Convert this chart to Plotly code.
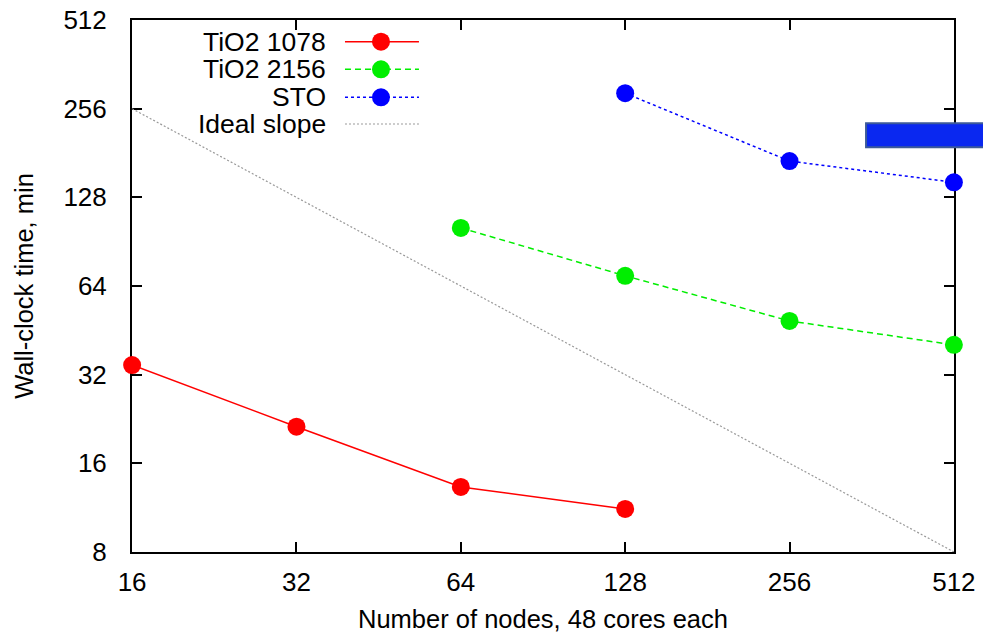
import math
import plotly.graph_objects as go

# ---- data ----
nodes_tio2_1078 = [16, 32, 64, 128]
time_tio2_1078 = [34.5, 21.3, 13.3, 11.2]

nodes_tio2_2156 = [64, 128, 256, 512]
time_tio2_2156 = [100.8, 69.3, 48.7, 40.4]

nodes_sto = [128, 256, 512]
time_sto = [289, 170, 144]

nodes_ideal = [16, 512]
time_ideal = [256, 8]

x_ticks = [16, 32, 64, 128, 256, 512]
y_ticks = [8, 16, 32, 64, 128, 256, 512]

series_names = ["TiO2 1078", "TiO2 2156", "STO", "Ideal slope"]
series_colors = ["#ff0000", "#00ee00", "#0000ff", "#999999"]
series_dash = ["solid", "6px,4px", "3px,3px", "2px,2px"]

FONT = "Liberation Sans, Arial, Helvetica, sans-serif"
EPS = 2e-4

fig = go.Figure()

fig.add_trace(go.Scatter(x=nodes_ideal, y=time_ideal, mode="lines",
                         line=dict(color=series_colors[3], width=1.2, dash=series_dash[3]),
                         name=series_names[3]))
fig.add_trace(go.Scatter(x=nodes_tio2_1078, y=time_tio2_1078, mode="lines+markers",
                         line=dict(color=series_colors[0], width=1.5, dash=series_dash[0]),
                         marker=dict(size=18, color=series_colors[0]),
                         name=series_names[0], cliponaxis=False))
fig.add_trace(go.Scatter(x=nodes_tio2_2156, y=time_tio2_2156, mode="lines+markers",
                         line=dict(color=series_colors[1], width=1.5, dash=series_dash[1]),
                         marker=dict(size=18, color=series_colors[1]),
                         name=series_names[1], cliponaxis=False))
fig.add_trace(go.Scatter(x=nodes_sto, y=time_sto, mode="lines+markers",
                         line=dict(color=series_colors[2], width=1.5, dash=series_dash[2]),
                         marker=dict(size=18, color=series_colors[2]),
                         name=series_names[2], cliponaxis=False))

# ---- custom gnuplot-style legend (text left, sample right) ----
leg_text_x = 0.2372
leg_line_x0, leg_line_x1 = 0.2591, 0.3491
leg_marker_x = 0.3029
leg_rows_y = [0.9592, 0.9073, 0.8547, 0.8045]
shapes = []
annotations = []
for i, name in enumerate(series_names):
    yy = leg_rows_y[i]
    annotations.append(dict(x=leg_text_x, y=yy, xref="paper", yref="paper",
                            text=name, showarrow=False, xanchor="right",
                            yanchor="middle", borderpad=0,
                            font=dict(size=26.5, color="black", family=FONT)))
    shapes.append(dict(type="line", xref="paper", yref="paper",
                       x0=leg_line_x0, x1=leg_line_x1, y0=yy, y1=yy,
                       line=dict(color=series_colors[i], width=1.5 if i < 3 else 1.2,
                                 dash=series_dash[i])))
    if i < 3:
        shapes.append(dict(type="circle", xref="paper", yref="paper",
                           xsizemode="pixel", ysizemode="pixel",
                           xanchor=leg_marker_x, yanchor=yy,
                           x0=-9, x1=9, y0=-9, y1=9,
                           fillcolor=series_colors[i], line=dict(width=0)))

# blue block at right edge (present in the reference image)
shapes.append(dict(type="rect", xref="paper", yref="paper",
                   x0=0.893, x1=1.05, y0=0.761, y1=0.806, layer="above",
                   fillcolor="#0a28f0", line=dict(color="#3c5a9a", width=2)))

fig.update_layout(
    width=983, height=633,
    margin=dict(l=132, r=29, t=20, b=81),
    plot_bgcolor="white", paper_bgcolor="white",
    showlegend=False,
    font=dict(family=FONT, size=26, color="black"),
    shapes=shapes, annotations=annotations,
)

common = dict(type="log", ticks="inside", ticklen=10, tickwidth=1.5, tickcolor="black",
              showline=True, linecolor="black", linewidth=2, mirror="ticks",
              showgrid=False, zeroline=False, automargin=False, layer="below traces",
              tickfont=dict(size=26, family=FONT))

fig.update_xaxes(range=[math.log10(16) - EPS, math.log10(512) + EPS],
                 tickvals=x_ticks, ticktext=[str(v) for v in x_ticks],
                 ticklabelstandoff=6,
                 title=dict(text="Number of nodes, 48 cores each", standoff=16,
                            font=dict(size=25.5, family=FONT)),
                 **common)
fig.update_yaxes(range=[math.log10(8) - EPS, math.log10(512) + EPS],
                 tickvals=y_ticks, ticktext=[str(v) for v in y_ticks],
                 ticklabelstandoff=18,
                 title=dict(text="Wall-clock time, min", standoff=22,
                            font=dict(size=25.5, family=FONT)),
                 **common)

fig.write_html("out.html")
